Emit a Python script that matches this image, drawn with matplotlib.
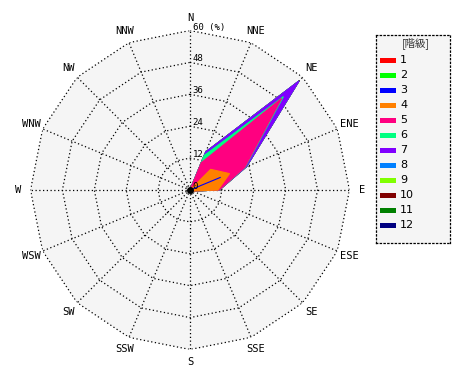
import numpy as np
import matplotlib
matplotlib.use("Agg")
import matplotlib.pyplot as plt
from matplotlib.transforms import offset_copy
from matplotlib.patches import Rectangle

directions = ["N", "NNE", "NE", "ENE", "E", "ESE", "SE", "SSE",
              "S", "SSW", "SW", "WSW", "W", "WNW", "NW", "NNW"]
class_labels = ["1", "2", "3", "4", "5", "6", "7", "8", "9", "10", "11", "12"]
class_colors = ["#ff0000", "#00ff00", "#0000ff", "#ff8000", "#ff0080", "#00ff80",
                "#8000ff", "#0080ff", "#80ff00", "#800000", "#008000", "#000080"]

# frequency (%) per class and direction (N, NNE, NE, ENE, E, ESE, ... NNW)
z = [0.0] * 10
cls1 = [0, 0, 0, 0, 0, 0] + z
cls2 = [0, 0, 0, 0, 0, 0] + z
cls3 = [0, 0, 0, 12.5, 0, 0] + z
cls4 = [0, 0, 11.0, 3.6, 10.5, 1.0] + z
cls5 = [0, 11.1, 37.7, 6.2, 0.5, 0] + z
cls6 = [0, 3.0, 1.0, 0.2, 0, 0] + z
cls7 = [0, 1.4, 8.3, 0.5, 0, 0] + z
cls8 = [0, 0, 0, 0, 0, 0] + z
cls9 = [0, 0, 0, 0, 0, 0] + z
cls10 = [0, 0, 0, 0, 0, 0] + z
cls11 = [0, 0, 0, 0, 0, 0] + z
cls12 = [0, 0, 0, 0, 0, 0] + z

ring_values = [0, 12, 24, 36, 48, 60]
ring_labels = ["0", "12", "24", "36", "48", "60 (%)"]
rmax = 60

W, H = 470, 380
fig = plt.figure(figsize=(W / 100, H / 100), dpi=100)
fig.patch.set_facecolor("white")

cx, cy, R = 190, 190, 159.5
ax = fig.add_axes([(cx - R) / W, (H - cy - R) / H, 2 * R / W, 2 * R / H],
                  projection="polar")
ax.set_theta_zero_location("N")
ax.set_theta_direction(-1)
ax.set_ylim(0, rmax)
ax.grid(False)
ax.set_xticks([])
ax.set_yticks([])
ax.spines["polar"].set_visible(False)
ax.patch.set_visible(False)

theta = np.deg2rad(np.arange(len(directions)) * 22.5)
theta_c = np.append(theta, theta[0])

# background polygon
ax.fill(theta_c, [rmax] * len(theta_c), color="#f5f5f5", zorder=0, lw=0)

dot = (0, (1, 2))
for rv in ring_values[1:]:
    ax.plot(theta_c, [rv] * len(theta_c), color="black", lw=0.9, ls=dot, zorder=1)
for t in theta:
    ax.plot([t, t], [0, rmax], color="black", lw=0.9, ls=dot, zorder=1)

classes = np.array([cls1, cls2, cls3, cls4, cls5, cls6, cls7, cls8,
                    cls9, cls10, cls11, cls12], dtype=float)
cum = np.cumsum(classes, axis=0)
for i in range(len(class_labels) - 1, -1, -1):
    vals = np.append(cum[i], cum[i][0])
    if vals.max() <= 0:
        continue
    ax.fill(theta_c, vals, facecolor=class_colors[i], edgecolor=class_colors[i],
            lw=0.8, zorder=2 + (12 - i) * 0.01)

ax.plot([0], [0], "o", color="black", ms=4, zorder=5)

# direction labels
lab_r = 172 / R * rmax
for t, d in zip(theta, directions):
    ax.text(t, lab_r, d, ha="center", va="center", fontsize=7.5,
            family="DejaVu Sans Mono", clip_on=False)

# ring labels
tr = offset_copy(ax.transData, fig=fig, x=2.5, y=3.5, units="dots")
for rv, rl in zip(ring_values, ring_labels):
    ax.text(0, rv, rl, transform=tr, ha="left", va="center", fontsize=6.5,
            family="DejaVu Sans Mono", clip_on=False, zorder=6)

# legend box
lx0, ly0, lw_, lh_ = 375.7, 35, 74.3, 208.3
lax = fig.add_axes([lx0 / W, (H - ly0 - lh_) / H, lw_ / W, lh_ / H])
lax.set_xlim(0, lw_)
lax.set_ylim(lh_, 0)
lax.set_facecolor("#f5f5f5")
lax.set_xticks([])
lax.set_yticks([])
for s in lax.spines.values():
    s.set_linestyle(dot)
    s.set_linewidth(0.9)
lax.text(lw_ / 2 + 3, 8.5, "[階級]", ha="center", va="center", fontsize=7.5,
         family=["Noto Sans CJK JP", "DejaVu Sans"], color="#333333")
for k, (lab, col) in enumerate(zip(class_labels, class_colors)):
    yy = 25.3 + 15 * k
    lax.add_patch(Rectangle((4.3, yy - 2.2), 16, 4.4, facecolor=col, edgecolor="none"))
    lax.text(24.3, yy, lab, ha="left", va="center", fontsize=8,
             family="DejaVu Sans")

fig.savefig("out.png", dpi=100)
